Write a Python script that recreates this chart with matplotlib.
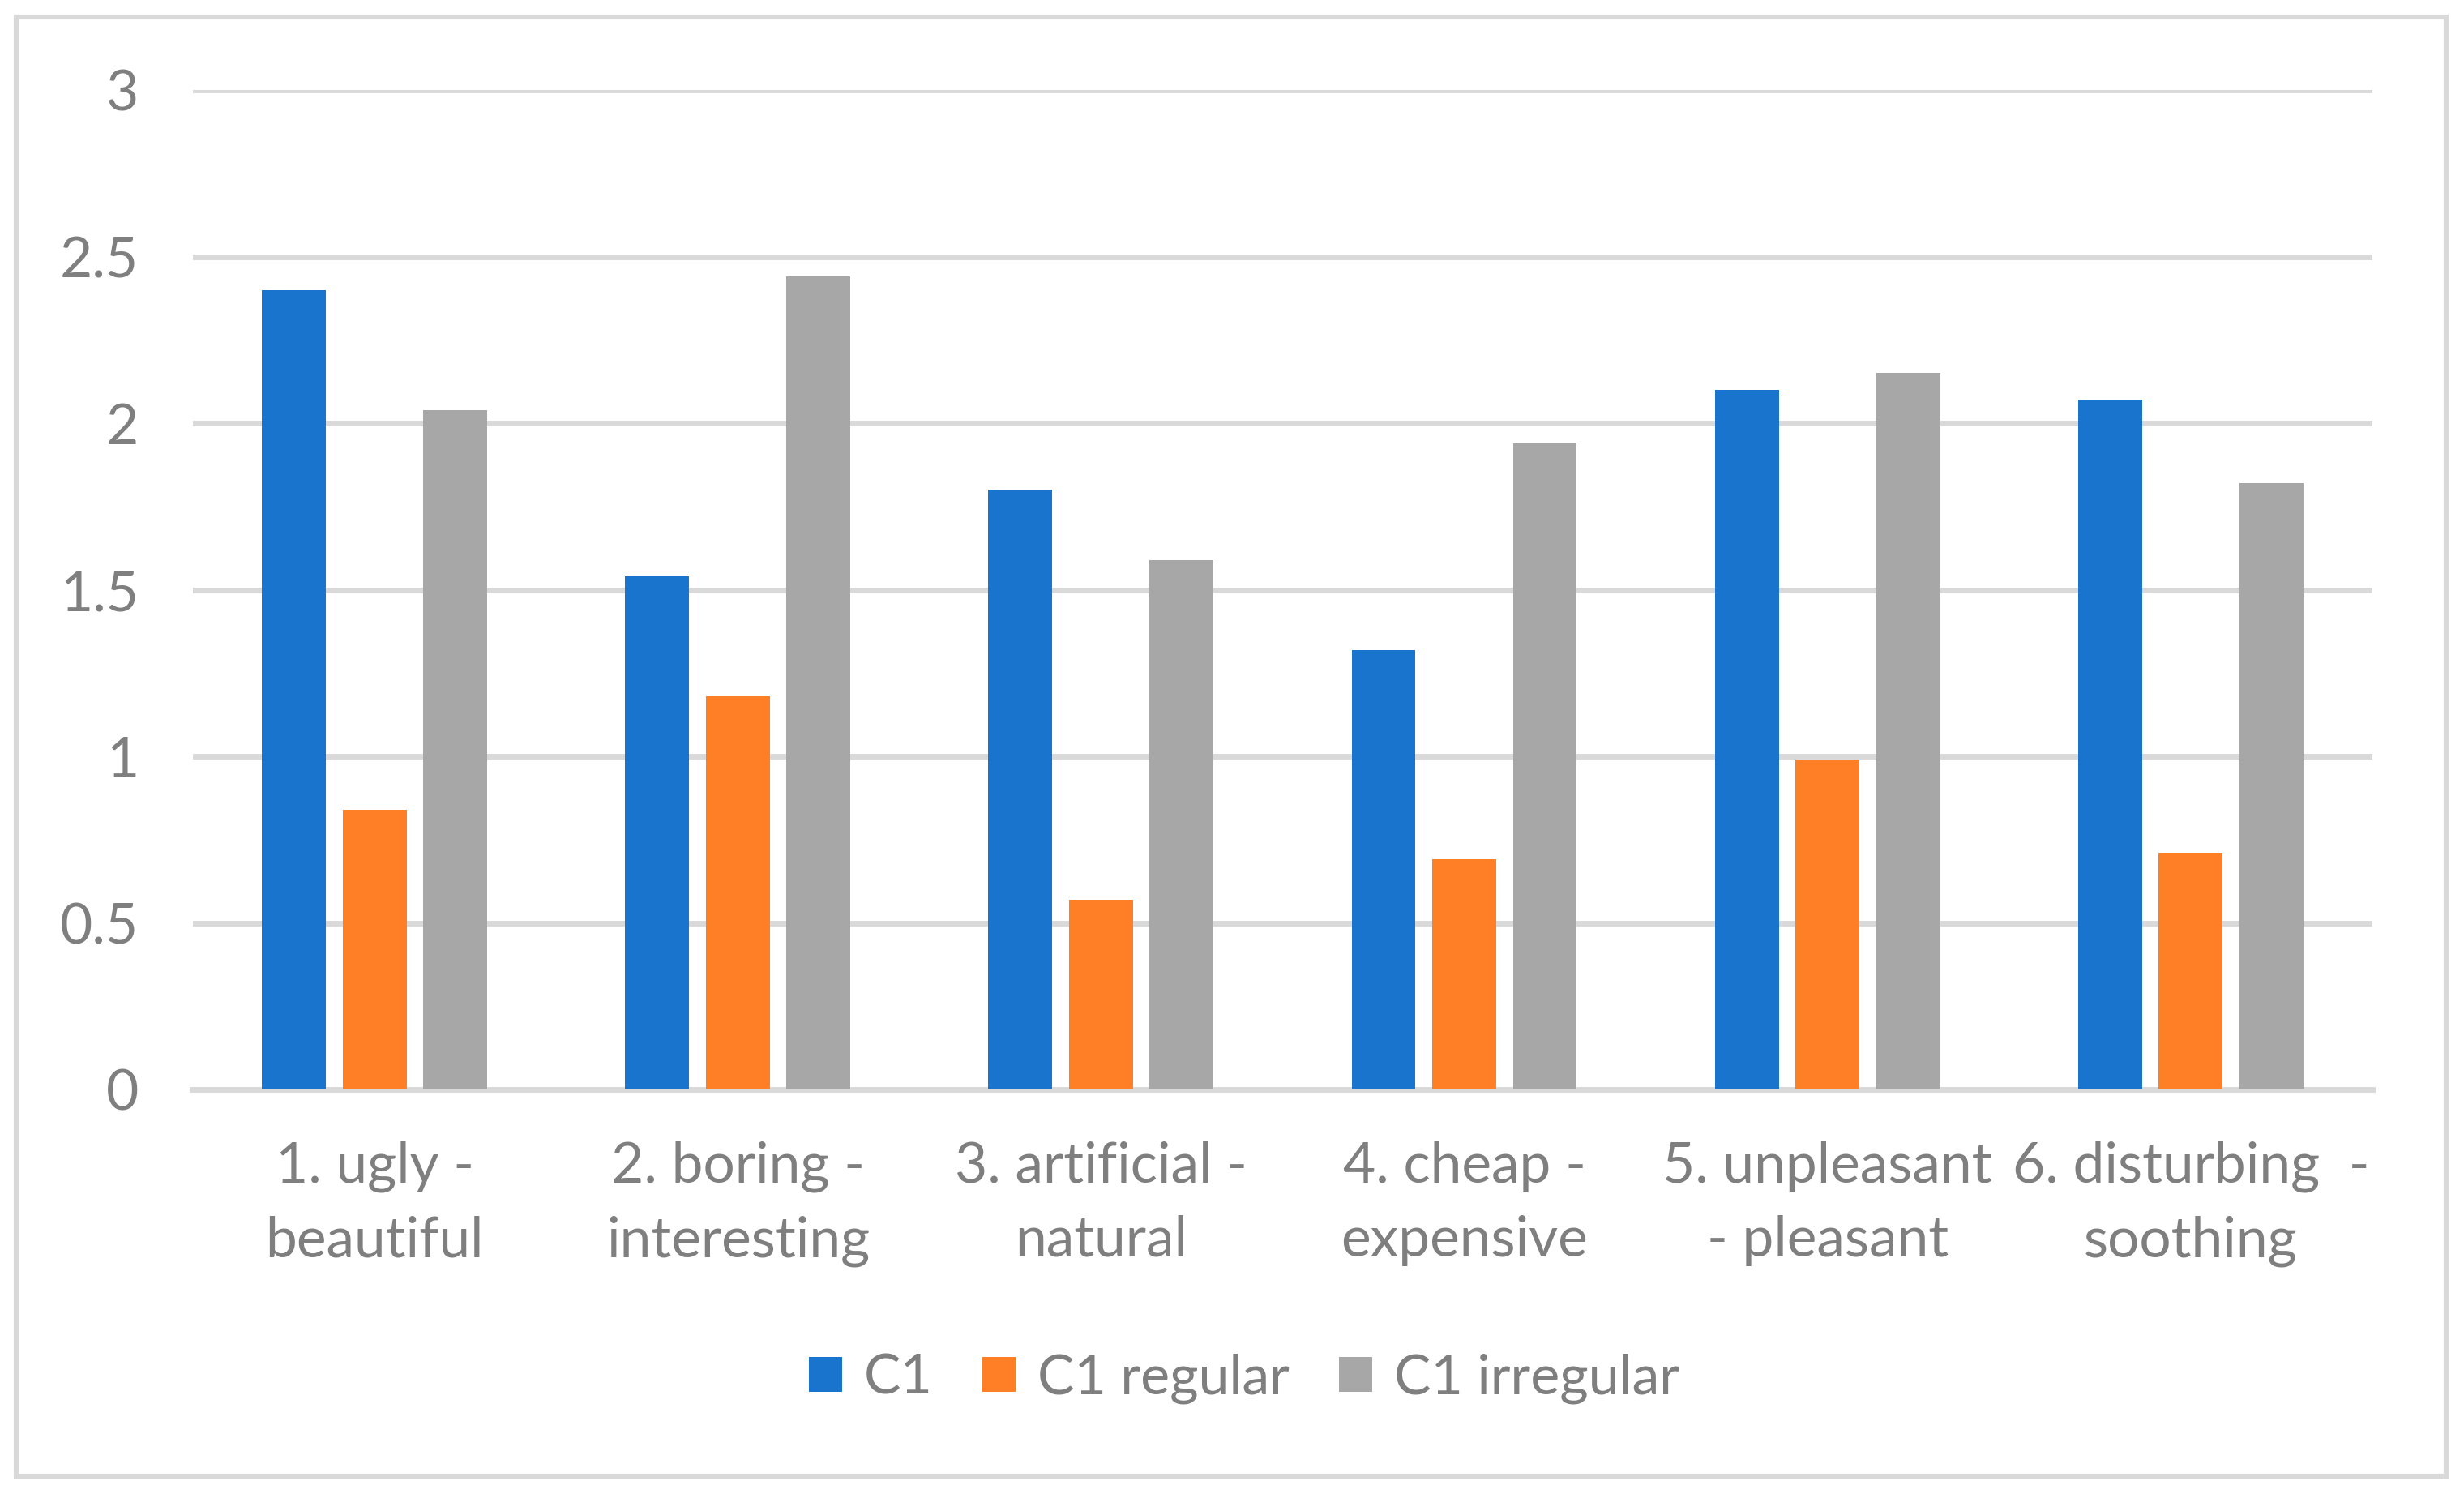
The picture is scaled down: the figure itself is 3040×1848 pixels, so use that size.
import numpy as np
import matplotlib
matplotlib.use('Agg')
import matplotlib.pyplot as plt
from matplotlib.patches import Rectangle

categories = ['1. ugly -\nbeautiful', '2. boring -\ninteresting', '3. artificial -\nnatural',
              '4. cheap -\nexpensive', '5. unpleasant\n- pleasant', '6. disturbing  -\nsoothing']
c1 = [2.40, 1.54, 1.80, 1.32, 2.10, 2.07]
c1_regular = [0.84, 1.18, 0.57, 0.69, 0.99, 0.71]
c1_irregular = [2.04, 2.44, 1.59, 1.94, 2.15, 1.82]
series_names = ['C1', 'C1 regular', 'C1 irregular']
colors = ['#1874CD', '#FF7F27', '#A7A7A7']

text_color = '#7f7f7f'
grid_color = '#d9d9d9'
plt.rcParams['font.family'] = ['Lato', 'DejaVu Sans']

fig = plt.figure(figsize=(15.2, 9.24), dpi=200)
fig.patches.append(Rectangle((20 / 3040, 1 - 1821 / 1848), 2998 / 3040, 1800 / 1848,
                             transform=fig.transFigure, fill=False,
                             edgecolor=grid_color, linewidth=2.2))

ax = fig.add_axes([0.0783, 0.2727, 0.8845, 0.6672])
x = np.arange(len(categories))
step = 0.222
width = 0.176
for i, (vals, name, col) in enumerate(zip([c1, c1_regular, c1_irregular], series_names, colors)):
    ax.bar(x + (i - 1) * step, vals, width, color=col, label=name, zorder=3)

ax.set_xlim(-0.5, len(categories) - 0.5)
ax.set_ylim(0, 3)
ax.set_yticks([0, 0.5, 1, 1.5, 2, 2.5, 3])
ax.set_yticklabels(['0', '0.5', '1', '1.5', '2', '2.5', '3'])
ax.set_xticks(x)
ax.set_xticklabels(categories, linespacing=1.55)
ax.yaxis.grid(True, color=grid_color, linewidth=2.5, zorder=0)
ax.set_axisbelow(True)
for s in ['top', 'right', 'left']:
    ax.spines[s].set_visible(False)
ax.spines['bottom'].set_color(grid_color)
ax.spines['bottom'].set_linewidth(2.5)
ax.tick_params(axis='both', length=0, labelsize=25, colors=text_color)
ax.tick_params(axis='y', pad=24)
ax.tick_params(axis='x', pad=23)

leg = fig.legend(loc='center', bbox_to_anchor=(0.505, 1 - 1701 / 1848), ncol=3, frameon=False,
                 fontsize=24.5, handlelength=0.6, handleheight=0.6, handletextpad=0.4,
                 columnspacing=0.9, labelcolor=text_color)

fig.savefig('out.png', dpi=200)
